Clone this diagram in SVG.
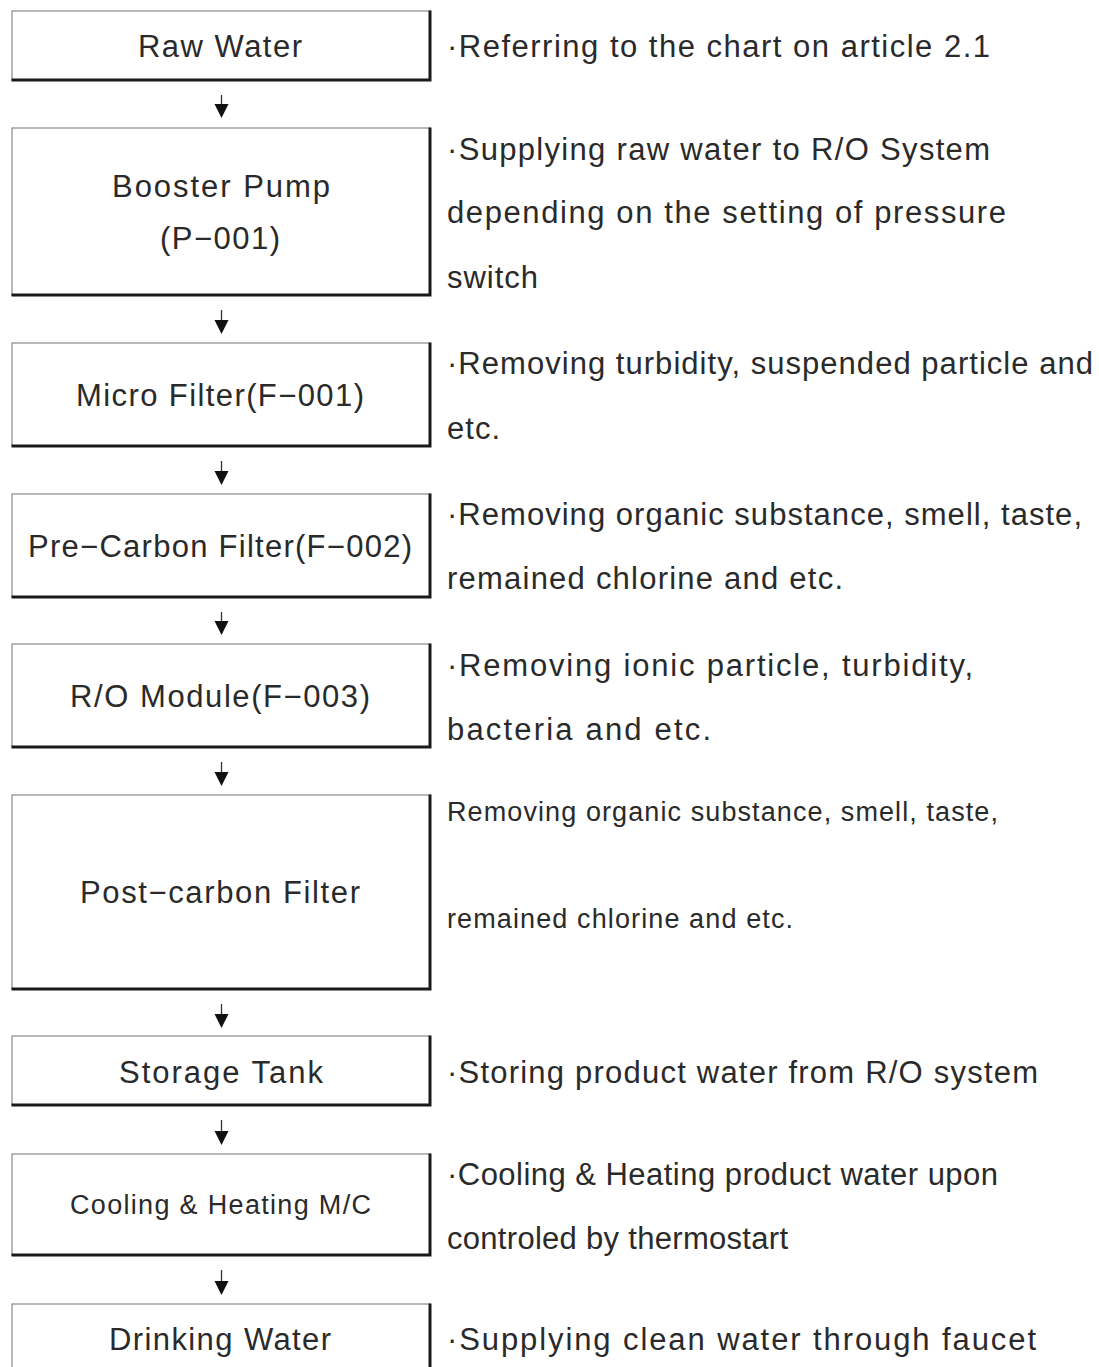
<svg xmlns="http://www.w3.org/2000/svg" width="1099" height="1367" viewBox="0 0 1099 1367">
<style>
.bg{fill:#fff}
.box{fill:#fff;stroke:#8a8a8a;stroke-width:1.2}
.sh{fill:none;stroke:#1a1a1a;stroke-width:3;stroke-linecap:square}
.t{font-family:"Liberation Sans",Arial,sans-serif;font-size:31px;fill:#2a2a2a}
.s{font-size:27px}
.ln{stroke:#333;stroke-width:1.3}
.hd{fill:#111}
</style>
<rect class="bg" width="1099" height="1367"/>

<g id="n1">
<rect class="box" x="12" y="11" width="418" height="69"/>
<polyline class="sh" points="430,12 430,80 13,80"/>
<text class="t" x="138" y="57" textLength="164" lengthAdjust="spacing">Raw Water</text>
</g>
<g id="n2">
<rect class="box" x="12" y="128" width="418" height="167"/>
<polyline class="sh" points="430,129 430,295 13,295"/>
<text class="t" x="112" y="197" textLength="218" lengthAdjust="spacing">Booster Pump</text>
<text class="t" x="160" y="249" textLength="120" lengthAdjust="spacing">(P−001)</text>
</g>
<g id="n3">
<rect class="box" x="12" y="343" width="418" height="103"/>
<polyline class="sh" points="430,344 430,446 13,446"/>
<text class="t" x="76" y="406" textLength="288" lengthAdjust="spacing">Micro Filter(F−001)</text>
</g>
<g id="n4">
<rect class="box" x="12" y="494" width="418" height="103"/>
<polyline class="sh" points="430,495 430,597 13,597"/>
<text class="t" x="28" y="557" textLength="384" lengthAdjust="spacing">Pre−Carbon Filter(F−002)</text>
</g>
<g id="n5">
<rect class="box" x="12" y="644" width="418" height="103"/>
<polyline class="sh" points="430,645 430,747 13,747"/>
<text class="t" x="70" y="707" textLength="300" lengthAdjust="spacing">R/O Module(F−003)</text>
</g>
<g id="n6">
<rect class="box" x="12" y="795" width="418" height="194"/>
<polyline class="sh" points="430,796 430,989 13,989"/>
<text class="t" x="80" y="903" textLength="280" lengthAdjust="spacing">Post−carbon Filter</text>
</g>
<g id="n7">
<rect class="box" x="12" y="1036" width="418" height="69"/>
<polyline class="sh" points="430,1037 430,1105 13,1105"/>
<text class="t" x="119" y="1083" textLength="204" lengthAdjust="spacing">Storage Tank</text>
</g>
<g id="n8">
<rect class="box" x="12" y="1154" width="418" height="101"/>
<polyline class="sh" points="430,1155 430,1255 13,1255"/>
<text class="t s" x="70" y="1214" textLength="301" lengthAdjust="spacing">Cooling &amp; Heating M/C</text>
</g>
<g id="n9">
<rect class="box" x="12" y="1304" width="418" height="80"/>
<polyline class="sh" points="430,1305 430,1370"/>
<text class="t" x="109" y="1350" textLength="222" lengthAdjust="spacing">Drinking Water</text>
</g>

<g id="connectors">
<g id="a1"><line class="ln" x1="221.5" y1="95" x2="221.5" y2="106"/><polygon class="hd" points="214.5,104 228.5,104 221.5,118"/></g>
<g id="a2"><line class="ln" x1="221.5" y1="310" x2="221.5" y2="322"/><polygon class="hd" points="214.5,320 228.5,320 221.5,334"/></g>
<g id="a3"><line class="ln" x1="221.5" y1="461" x2="221.5" y2="473"/><polygon class="hd" points="214.5,471 228.5,471 221.5,485"/></g>
<g id="a4"><line class="ln" x1="221.5" y1="612" x2="221.5" y2="623"/><polygon class="hd" points="214.5,621 228.5,621 221.5,635"/></g>
<g id="a5"><line class="ln" x1="221.5" y1="762" x2="221.5" y2="774"/><polygon class="hd" points="214.5,772 228.5,772 221.5,786"/></g>
<g id="a6"><line class="ln" x1="221.5" y1="1004" x2="221.5" y2="1016"/><polygon class="hd" points="214.5,1014 228.5,1014 221.5,1028"/></g>
<g id="a7"><line class="ln" x1="221.5" y1="1120" x2="221.5" y2="1133"/><polygon class="hd" points="214.5,1131 228.5,1131 221.5,1145"/></g>
<g id="a8"><line class="ln" x1="221.5" y1="1270" x2="221.5" y2="1283"/><polygon class="hd" points="214.5,1281 228.5,1281 221.5,1295"/></g>
</g>

<g id="descriptions">
<text class="t" x="447" y="57" textLength="543" lengthAdjust="spacing">·Referring to the chart on article 2.1</text>
<text class="t" x="447" y="160" textLength="543" lengthAdjust="spacing">·Supplying raw water to R/O System</text>
<text class="t" x="447" y="223" textLength="559" lengthAdjust="spacing">depending on the setting of pressure</text>
<text class="t" x="447" y="288" textLength="91" lengthAdjust="spacing">switch</text>
<text class="t" x="447" y="374" textLength="646" lengthAdjust="spacing">·Removing turbidity, suspended particle and</text>
<text class="t" x="447" y="439" textLength="53" lengthAdjust="spacing">etc.</text>
<text class="t" x="447" y="525" textLength="635" lengthAdjust="spacing">·Removing organic substance, smell, taste,</text>
<text class="t" x="447" y="589" textLength="396" lengthAdjust="spacing">remained chlorine and etc.</text>
<text class="t" x="447" y="676" textLength="526" lengthAdjust="spacing">·Removing ionic particle, turbidity,</text>
<text class="t" x="447" y="740" textLength="264" lengthAdjust="spacing">bacteria and etc.</text>
<text class="t s" x="447" y="821" textLength="551" lengthAdjust="spacing">Removing organic substance, smell, taste,</text>
<text class="t s" x="447" y="928" textLength="346" lengthAdjust="spacing">remained chlorine and etc.</text>
<text class="t" x="447" y="1083" textLength="591" lengthAdjust="spacing">·Storing product water from R/O system</text>
<text class="t" x="447" y="1185" textLength="551" lengthAdjust="spacing">·Cooling &amp; Heating product water upon</text>
<text class="t" x="447" y="1249" textLength="341" lengthAdjust="spacing">controled by thermostart</text>
<text class="t" x="447" y="1350" textLength="589" lengthAdjust="spacing">·Supplying clean water through faucet</text>
</g>
</svg>
